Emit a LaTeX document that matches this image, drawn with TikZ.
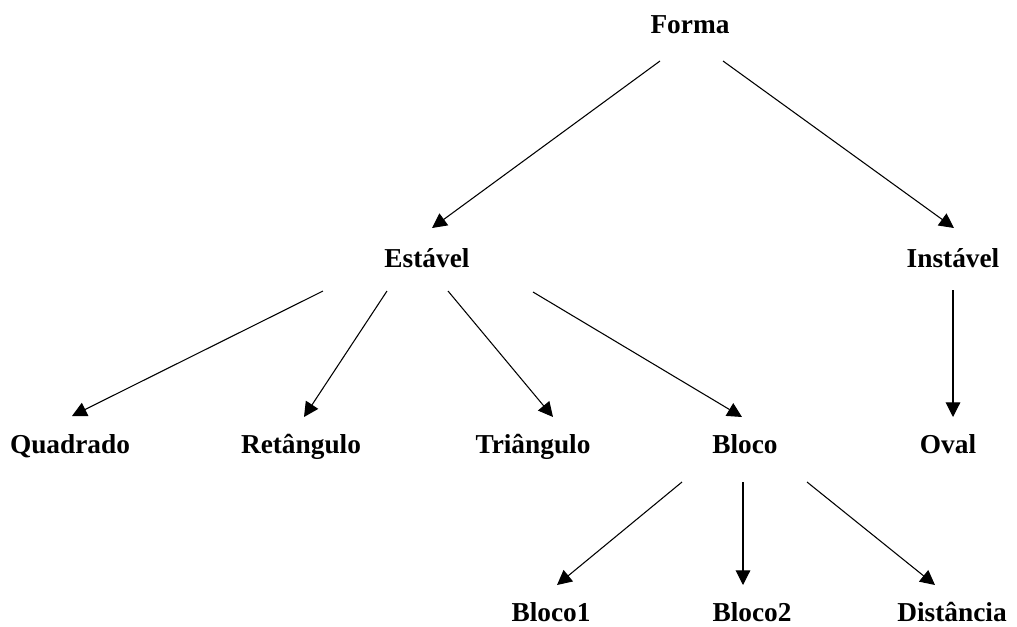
\documentclass[tikz,border=0pt]{standalone}
\usepackage{fontspec}
\setmainfont{Liberation Serif}
\usetikzlibrary{arrows.meta,calc}
\begin{document}
\begin{tikzpicture}[x=0.75pt,y=-0.75pt,
  label/.style={anchor=base,inner sep=0pt,font=\fontsize{20.5}{24}\selectfont\bfseries},
  arr/.style={line width=0.8pt,-{Triangle[length=11pt,width=11pt]}}]
\useasboundingbox (0,0) rectangle (1017,626);

% nodes, placed at their baselines
\node[label] (forma)    at (690,33)  {Forma};
\node[label] (estavel)  at (427,267) {Estável};
\node[label] (instavel) at (953,267) {Instável};
\node[label] (quadrado) at (70,453)  {Quadrado};
\node[label] (retang)   at (301,453) {Retângulo};
\node[label] (triang)   at (533,453) {Triângulo};
\node[label] (bloco)    at (745,453) {Bloco};
\node[label] (oval)     at (948,453) {Oval};
\node[label] (bloco1)   at (551,621) {Bloco1};
\node[label] (bloco2)   at (752,621) {Bloco2};
\node[label] (dist)     at (952,621) {Distância};

% connectors
\draw[arr] ($(forma.base)+(-30,28)$)    -- ($(estavel.base)+(5,-39)$);
\draw[arr] ($(forma.base)+(33,28)$)     -- ($(instavel.base)+(1,-39)$);
\draw[arr] ($(estavel.base)+(-104,24)$) -- ($(quadrado.base)+(2,-37)$);
\draw[arr] ($(estavel.base)+(-40,24)$)  -- ($(retang.base)+(3,-36)$);
\draw[arr] ($(estavel.base)+(21,24)$)   -- ($(triang.base)+(20,-36)$);
\draw[arr] ($(estavel.base)+(106,25)$)  -- ($(bloco.base)+(-3,-36)$);
\draw[arr] ($(instavel.base)+(0,23)$)   -- ($(oval.base)+(5,-36)$);
\draw[arr] ($(bloco.base)+(-63,29)$)    -- ($(bloco1.base)+(6,-36)$);
\draw[arr] ($(bloco.base)+(-2,29)$)     -- ($(bloco2.base)+(-9,-36)$);
\draw[arr] ($(bloco.base)+(62,29)$)     -- ($(dist.base)+(-17,-36)$);
\end{tikzpicture}
\end{document}
